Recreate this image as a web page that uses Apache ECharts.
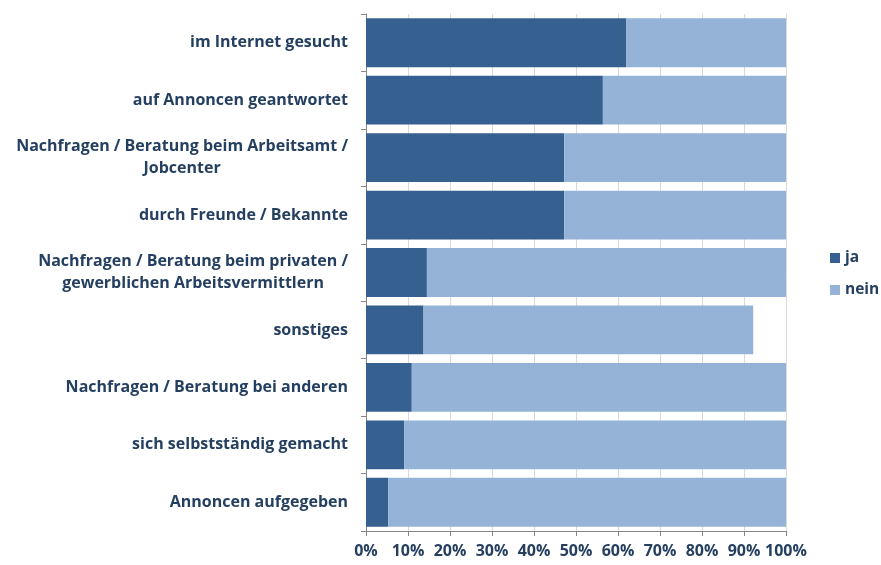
<!DOCTYPE html>
<html>
<head>
<meta charset="utf-8">
<script src="https://cdn.jsdelivr.net/npm/echarts@6/dist/echarts.min.js"></script>
<style>html,body{margin:0;padding:0;background:#fff}#c{width:881px;height:565px}</style>
</head>
<body>
<div id="c"></div>
<script>
const categories = [
  "im Internet gesucht",
  "auf Annoncen geantwortet",
  "Nachfragen / Beratung beim Arbeitsamt /\nJobcenter",
  "durch Freunde / Bekannte",
  "Nachfragen / Beratung beim privaten /\ngewerblichen Arbeitsvermittlern",
  "sonstiges",
  "Nachfragen / Beratung bei anderen",
  "sich selbstständig gemacht",
  "Annoncen aufgegeben"
];
const jaValues   = [61.9, 56.4, 47.2, 47.2, 14.5, 13.7, 10.9, 9.1, 5.3];
const neinValues = [38.1, 43.6, 52.8, 52.8, 85.5, 78.5, 89.1, 90.9, 94.7];
const xTicks = [0, 10, 20, 30, 40, 50, 60, 70, 80, 90, 100];

const textColor = '#243F60';
const fontFamily = '"Open Sans", sans-serif';
const chart = echarts.init(document.getElementById('c'));
chart.setOption({
  animation: false,
  grid: { left: 366, right: 95, top: 14, bottom: 34 },
  legend: {
    orient: 'vertical',
    left: 830, top: 248, padding: 0,
    itemWidth: 10, itemHeight: 10, itemGap: 12,
    icon: 'rect',
    textStyle: { color: textColor, fontFamily, fontWeight: 'bold', fontSize: 15.5, lineHeight: 20 },
    data: ['ja', 'nein']
  },
  xAxis: {
    type: 'value', min: xTicks[0], max: xTicks[xTicks.length-1], interval: 10,
    axisLine: { show: true, lineStyle: { color: '#868686' } },
    axisTick: { show: true, length: 5, lineStyle: { color: '#868686' } },
    splitLine: { show: true, lineStyle: { color: '#D9D9D9' } },
    axisLabel: { formatter: v => v + '%', color: textColor, fontFamily, fontWeight: 'bold', fontSize: 16, margin: 12 }
  },
  yAxis: {
    type: 'category', data: categories, inverse: true,
    axisLine: { show: true, lineStyle: { color: '#868686' } },
    axisTick: { show: true, length: 5, lineStyle: { color: '#868686' } },
    axisLabel: {
      color: textColor, fontFamily, fontWeight: 'bold', fontSize: 16, margin: 18, lineHeight: 22, align: 'right',
      formatter: v => v.split('\n').map(s => '{c|' + s + '}').join('\n'),
      rich: { c: { color: textColor, fontFamily, fontWeight: 'bold', fontSize: 16, lineHeight: 22, align: 'center' } }
    }
  },
  series: [
    { name: 'ja', type: 'bar', stack: 't', data: jaValues, barCategoryGap: '15%', itemStyle: { color: '#36608F' } },
    { name: 'nein', type: 'bar', stack: 't', data: neinValues, barCategoryGap: '15%', itemStyle: { color: '#95B3D7' } }
  ]
});
</script>
</body>
</html>
